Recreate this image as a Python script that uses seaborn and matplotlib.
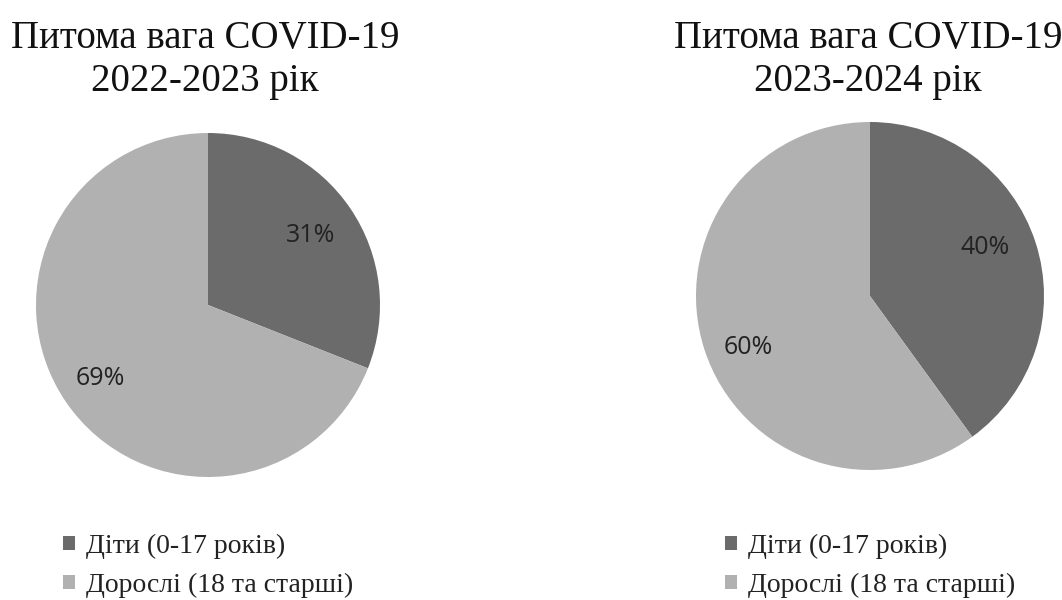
import numpy as np
import matplotlib
matplotlib.use("Agg")
import matplotlib.pyplot as plt
from matplotlib.patches import Patch
import seaborn as sns

# Shares of COVID-19 cases by age group
categories = ["Діти (0-17 років)", "Дорослі (18 та старші)"]
titles = ["Питома вага COVID-19\n2022-2023 рік", "Питома вага COVID-19\n2023-2024 рік"]
shares_2022 = [31, 69]
shares_2023 = [40, 60]

sns.set_theme(style="white")
plt.rcParams["font.family"] = ["Liberation Serif", "DejaVu Serif"]

colors = ["#6b6b6b", "#b1b1b1"]

W, H = 1062, 600
fig = plt.figure(figsize=(W / 100, H / 100), dpi=100)
fig.patch.set_facecolor("white")

# pie geometry in pixels: center x, center y (from top), radius
layouts = [(208, 305, 172), (870, 296, 174)]
label_dist = (0.72, 0.76)
label_turn = [0, 5]  # degrees added to each label's angle
title_x = [205, 868]
legend_x = [63, 725]

for i, (vals, title) in enumerate(zip([shares_2022, shares_2023], titles)):
    cx, cy, r = layouts[i]
    ax = fig.add_axes([(cx - r) / W, (H - cy - r) / H, 2 * r / W, 2 * r / H])
    wedges, texts, autotexts = ax.pie(
        vals, colors=colors, startangle=90, counterclock=False,
        autopct="%d%%", radius=1.0,
        wedgeprops=dict(linewidth=0),
        textprops=dict(family="Open Sans", fontsize=18, color="#222222"),
    )
    for w, t, d in zip(wedges, autotexts, label_dist):
        ang = np.deg2rad((w.theta1 + w.theta2) / 2 + label_turn[i])
        t.set_position((d * np.cos(ang), d * np.sin(ang)))
    ax.set_xlim(-1, 1)
    ax.set_ylim(-1, 1)
    ax.set_aspect("equal")
    ax.axis("off")

    fig.text(title_x[i] / W, 1 - 60 / H, title, ha="center", va="center",
             fontsize=28, linespacing=1.2, color="#111111")

    handles = [Patch(facecolor=c, edgecolor="none") for c in colors]
    fig.legend(handles, categories, loc="upper left",
               bbox_to_anchor=(legend_x[i] / W, 1 - 534 / H),
               frameon=False, fontsize=20, handlelength=0.42, handleheight=0.42,
               handletextpad=0.4, labelspacing=0.5, borderpad=0, borderaxespad=0,
               labelcolor="#222222")

fig.savefig("out.png", dpi=100, facecolor="white")
